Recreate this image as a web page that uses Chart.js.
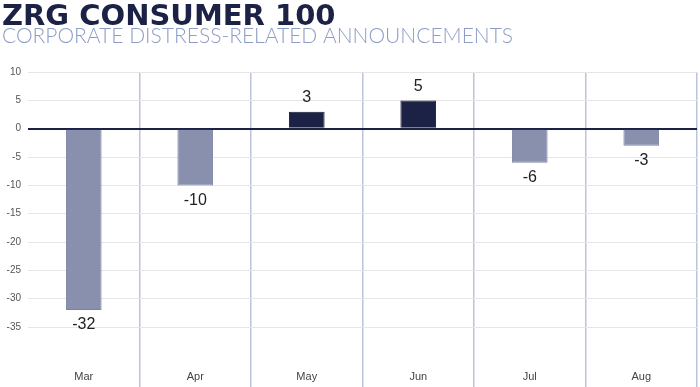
<!DOCTYPE html>
<html>
<head>
<meta charset="utf-8">
<script src="https://cdn.jsdelivr.net/npm/chart.js@4"></script>
<style>
  html, body { margin: 0; padding: 0; background: #ffffff; }
  #wrap { width: 700px; height: 387px; position: relative; }
</style>
</head>
<body>
<div id="wrap"><canvas id="c"></canvas></div>
<script>
const titleText = 'ZRG CONSUMER 100';
const subtitleText = 'CORPORATE DISTRESS-RELATED ANNOUNCEMENTS';
const months = ['Mar', 'Apr', 'May', 'Jun', 'Jul', 'Aug'];
const announcements = [-32, -10, 3, 5, -6, -3];
const yTickStep = 5;
const yMin = -38;
const yMax = 10;

const NAVY = '#1c2146';
const SLATE = '#8890ae';

const valueLabels = {
  id: 'valueLabels',
  afterDatasetsDraw(chart) {
    const ctx = chart.ctx;
    const meta = chart.getDatasetMeta(0);
    const data = chart.data.datasets[0].data;
    ctx.save();
    ctx.font = '16px "Liberation Sans", Arial, sans-serif';
    ctx.fillStyle = '#222222';
    ctx.textAlign = 'center';
    ctx.textBaseline = 'middle';
    meta.data.forEach((bar, i) => {
      const v = data[i];
      const y = v >= 0 ? bar.y - 14 : bar.y + 15;
      ctx.fillText(String(v), bar.x, y);
    });
    ctx.restore();
  }
};

new Chart(document.getElementById('c'), {
  type: 'bar',
  data: {
    labels: months,
    datasets: [{
      data: announcements,
      backgroundColor: announcements.map(v => v >= 0 ? NAVY : SLATE),
      borderColor: announcements.map(v => v >= 0 ? '#121634' : '#7a83a3'),
      borderWidth: 1,
      categoryPercentage: 1,
      barPercentage: 0.32
    }]
  },
  options: {
    responsive: true,
    maintainAspectRatio: false,
    animation: false,
    layout: { padding: { left: 2, right: 3, top: 0, bottom: 0 } },
    plugins: {
      legend: { display: false },
      tooltip: { enabled: false },
      title: {
        display: true,
        text: titleText,
        align: 'start',
        color: NAVY,
        font: { family: '"DejaVu Sans"', size: 29, weight: 'bold', lineHeight: 0.9 },
        padding: { top: 4, bottom: -4 }
      },
      subtitle: {
        display: true,
        text: subtitleText,
        align: 'start',
        color: '#8d9dc6',
        font: { family: 'Lato', size: 21, weight: '300', lineHeight: 1.0 },
        padding: { top: 0, bottom: 25 }
      }
    },
    scales: {
      x: {
        offset: true,
        border: { display: false },
        grid: {
          offset: true,
          color: ctx => (ctx.index === 0 || ctx.index === months.length) ? 'rgba(0,0,0,0)' : '#bcc4dd',
          lineWidth: 1.5,
          drawTicks: true,
          tickLength: 45,
          tickColor: ctx => (ctx.index === 0 || ctx.index === months.length) ? 'rgba(0,0,0,0)' : '#bcc4dd'
        },
        ticks: {
          color: '#444444',
          padding: -19,
          font: { family: '"Liberation Sans", Arial, sans-serif', size: 11 }
        },
        afterFit: s => { s.height = 43; }
      },
      y: {
        min: yMin,
        max: yMax,
        border: { display: false },
        afterBuildTicks: s => { s.ticks = s.ticks.filter(t => t.value % yTickStep === 0); },
        grid: {
          drawTicks: false,
          color: ctx => ctx.tick && ctx.tick.value === 0 ? NAVY : '#e6e6e6',
          lineWidth: ctx => ctx.tick && ctx.tick.value === 0 ? 2 : 1
        },
        ticks: {
          stepSize: yTickStep,
          color: '#555555',
          padding: 7,
          font: { family: '"Liberation Sans", Arial, sans-serif', size: 10 }
        },
        afterFit: s => { s.width = 26; }
      }
    }
  },
  plugins: [valueLabels]
});
</script>
</body>
</html>
